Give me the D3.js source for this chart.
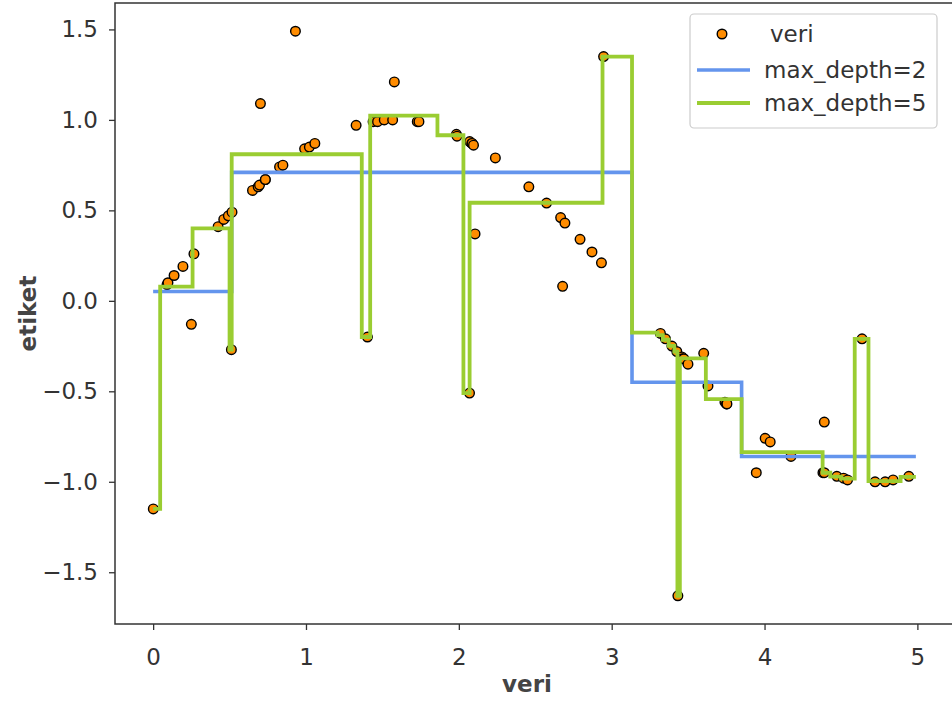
<!DOCTYPE html>
<html>
<head>
<meta charset="utf-8">
<script src="https://cdn.jsdelivr.net/npm/d3@7"></script>
<style>
  html, body { margin: 0; padding: 0; background: #fff; }
  svg { display: block; font-family: "DejaVu Sans", sans-serif; }
</style>
</head>
<body>
<svg id="chart" width="952" height="702"></svg>
<script>
// ---- data ----
const pointX = [0.001, 0.091, 0.097, 0.137, 0.195, 0.250, 0.267, 0.425, 0.462, 0.492,
  0.512, 0.516, 0.650, 0.687, 0.696, 0.702, 0.734, 0.734, 0.827, 0.849,
  0.931, 0.991, 1.022, 1.058, 1.328, 1.402, 1.439, 1.468, 1.512, 1.567,
  1.578, 1.728, 1.739, 1.984, 1.988, 2.070, 2.071, 2.085, 2.087, 2.096,
  2.106, 2.239, 2.458, 2.574, 2.666, 2.679, 2.694, 2.793, 2.871, 2.933,
  2.947, 3.319, 3.352, 3.394, 3.426, 3.433, 3.459, 3.462, 3.472, 3.499,
  3.602, 3.630, 3.741, 3.751, 3.754, 3.946, 4.004, 4.037, 4.173, 4.382,
  4.391, 4.391, 4.473, 4.517, 4.543, 4.638, 4.723, 4.789, 4.841, 4.944];
const pointY = [-1.15, 0.09, 0.10, 0.14, 0.19, -0.13, 0.26, 0.41, 0.45, 0.47,
  -0.27, 0.49, 0.61, 0.63, 0.64, 1.09, 0.67, 0.67, 0.74, 0.75,
  1.49, 0.84, 0.85, 0.87, 0.97, -0.20, 0.99, 0.99, 1.00, 1.00,
  1.21, 0.99, 0.99, 0.92, 0.91, -0.51, 0.88, 0.87, 0.87, 0.86,
  0.37, 0.79, 0.63, 0.54, 0.46, 0.08, 0.43, 0.34, 0.27, 0.21,
  1.35, -0.18, -0.21, -0.25, -0.28, -1.63, -0.31, -0.32, -0.32, -0.35,
  -0.29, -0.47, -0.56, -0.57, -0.57, -0.95, -0.76, -0.78, -0.86, -0.95,
  -0.67, -0.95, -0.97, -0.98, -0.99, -0.21, -1.00, -1.00, -0.99, -0.97];

// step predictions: segment edges and level of each segment
const depth2Edges = [0, 0.514, 3.133, 3.85, 4.99];
const depth2Levels = [0.052, 0.71, -0.45, -0.86];
const depth5Edges = [0, 0.046, 0.258, 0.50, 0.514, 1.365, 1.42, 1.86, 2.03, 2.0705,
  2.94, 3.133, 3.30, 3.335, 3.373, 3.41, 3.43, 3.446, 3.616, 3.85, 4.38,
  4.43, 4.50, 4.59, 4.68, 4.89, 4.99];
const depth5Levels = [-1.15, 0.079, 0.40, -0.27, 0.81, -0.20, 1.024, 0.915, -0.51, 0.542,
  1.35, -0.176, -0.19, -0.215, -0.249, -0.281, -1.63, -0.318, -0.543, -0.836, -0.95,
  -0.972, -0.983, -0.21, -0.996, -0.973];

const xTicks = [0, 1, 2, 3, 4, 5];
const yTicks = [-1.5, -1.0, -0.5, 0.0, 0.5, 1.0, 1.5];
const xLabel = "veri";
const yLabel = "etiket";
const legendLabels = ["veri", "max_depth=2", "max_depth=5"];

// ---- drawing ----
const svg = d3.select("#chart");
const plot = { left: 115, right: 954, top: 3, bottom: 624 };

const xExt = d3.extent(depth5Edges.concat(pointX));
const xPad = (xExt[1] - xExt[0]) * 0.05;
const yExt = d3.extent(pointY.concat(depth5Levels));
const yPad = (yExt[1] - yExt[0]) * 0.05;

const x = d3.scaleLinear().domain([xExt[0] - xPad, xExt[1] + xPad]).range([plot.left, plot.right]);
const y = d3.scaleLinear().domain([yExt[0] - yPad, yExt[1] + yPad]).range([plot.bottom, plot.top]);

const textCol = "#333";
const fontSize = 23;

// scatter
const pts = pointX.map((v, i) => [v, pointY[i]]);
svg.append("g").selectAll("circle").data(pts).join("circle")
  .attr("cx", d => x(d[0])).attr("cy", d => y(d[1]))
  .attr("r", 4.8)
  .attr("fill", "darkorange")
  .attr("stroke", "#000").attr("stroke-width", 1.4);

function stepPoints(edges, levels) {
  const p = levels.map((v, i) => [edges[i], v]);
  p.push([edges[edges.length - 1], levels[levels.length - 1]]);
  return p;
}
const stepLine = d3.line().x(d => x(d[0])).y(d => y(d[1])).curve(d3.curveStepAfter);

svg.append("path").datum(stepPoints(depth2Edges, depth2Levels))
  .attr("d", stepLine).attr("fill", "none")
  .attr("stroke", "cornflowerblue").attr("stroke-width", 3.6);
svg.append("path").datum(stepPoints(depth5Edges, depth5Levels))
  .attr("d", stepLine).attr("fill", "none")
  .attr("stroke", "yellowgreen").attr("stroke-width", 3.8);

// axes
const xAxis = d3.axisBottom(x).tickValues(xTicks).tickFormat(d3.format("d")).tickSize(6).tickPadding(19);
const yAxis = d3.axisLeft(y).tickValues(yTicks)
  .tickFormat(d => d3.format(".1f")(d).replace("-", "\u2212")).tickSize(6).tickPadding(11);

const gx = svg.append("g").attr("transform", `translate(0,${plot.bottom})`).call(xAxis);
const gy = svg.append("g").attr("transform", `translate(${plot.left},0)`).call(yAxis);
[gx, gy].forEach(g => {
  g.select(".domain").remove();
  g.selectAll(".tick line").attr("stroke", textCol).attr("stroke-width", 1.3);
  g.selectAll(".tick text").attr("fill", textCol).attr("font-size", fontSize)
    .attr("font-family", "DejaVu Sans, sans-serif");
});

// frame
svg.append("rect")
  .attr("x", plot.left).attr("y", plot.top)
  .attr("width", plot.right - plot.left).attr("height", plot.bottom - plot.top)
  .attr("fill", "none").attr("stroke", textCol).attr("stroke-width", 1.5);

// axis labels
svg.append("text").attr("x", 527).attr("y", 692)
  .attr("text-anchor", "middle").attr("font-size", fontSize).attr("font-weight", "bold")
  .attr("fill", "#444").text(xLabel);
svg.append("text").attr("transform", `translate(36,${(plot.top + plot.bottom) / 2}) rotate(-90)`)
  .attr("text-anchor", "middle").attr("font-size", fontSize).attr("font-weight", "bold")
  .attr("fill", "#444").text(yLabel);

// legend
const lg = svg.append("g");
lg.append("rect").attr("x", 690).attr("y", 14).attr("width", 247).attr("height", 114)
  .attr("rx", 4).attr("fill", "#fff").attr("fill-opacity", 0.85)
  .attr("stroke", "#ccc").attr("stroke-width", 1.2);
const rowY = [34, 70, 103];
lg.append("circle").attr("cx", 722).attr("cy", rowY[0]).attr("r", 4.8)
  .attr("fill", "darkorange").attr("stroke", "#000").attr("stroke-width", 1.4);
lg.append("line").attr("x1", 697).attr("x2", 750).attr("y1", rowY[1]).attr("y2", rowY[1])
  .attr("stroke", "cornflowerblue").attr("stroke-width", 3.6);
lg.append("line").attr("x1", 697).attr("x2", 750).attr("y1", rowY[2]).attr("y2", rowY[2])
  .attr("stroke", "yellowgreen").attr("stroke-width", 3.8);
legendLabels.forEach((t, i) => {
  lg.append("text").attr("x", i === 0 ? 770 : 764).attr("y", rowY[i])
    .attr("dy", "0.35em").attr("font-size", fontSize).attr("fill", textCol).text(t);
});
</script>
</body>
</html>
